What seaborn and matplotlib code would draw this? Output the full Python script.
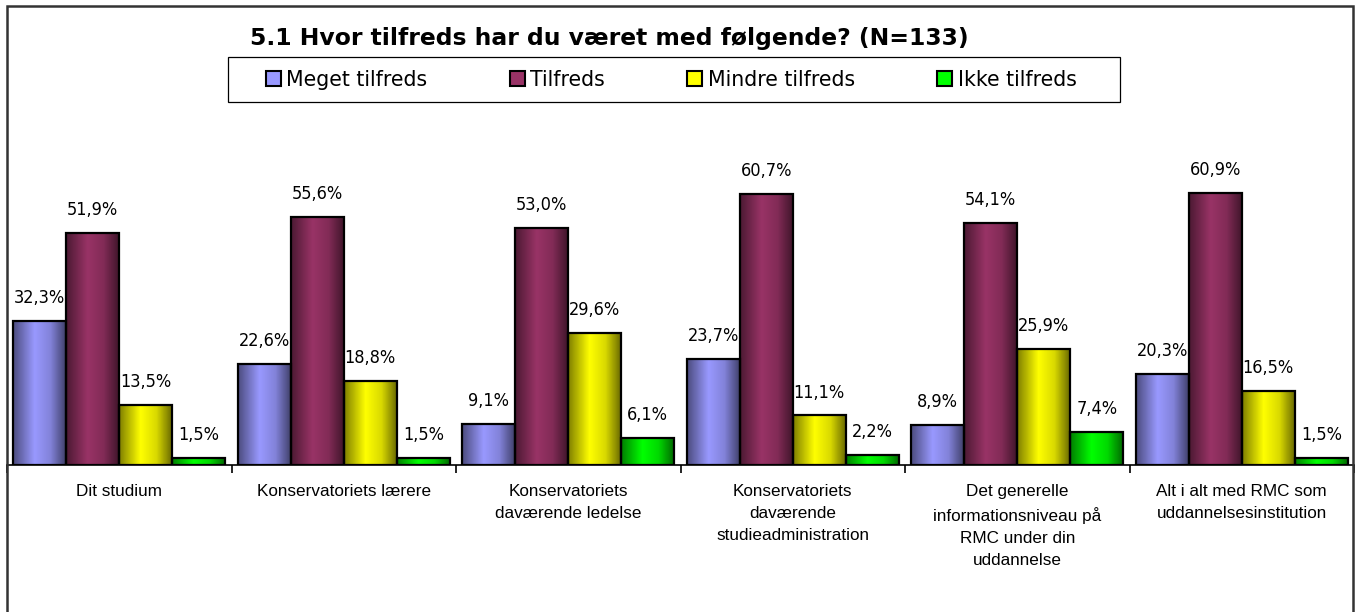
import numpy as np
import pandas as pd
import seaborn as sns
import matplotlib.pyplot as plt
from matplotlib import font_manager
from matplotlib.patches import Rectangle, Patch
from matplotlib.colors import to_rgb

# data
categories = ["Dit studium",
              "Konservatoriets lærere",
              "Konservatoriets\ndaværende ledelse",
              "Konservatoriets\ndaværende\nstudieadministration",
              "Det generelle\ninformationsniveau på\nRMC under din\nuddannelse",
              "Alt i alt med RMC som\nuddannelsesinstitution"]
answers = ["Meget tilfreds", "Tilfreds", "Mindre tilfreds", "Ikke tilfreds"]
meget = [32.3, 22.6, 9.1, 23.7, 8.9, 20.3]
tilfreds = [51.9, 55.6, 53.0, 60.7, 54.1, 60.9]
mindre = [13.5, 18.8, 29.6, 11.1, 25.9, 16.5]
ikke = [1.5, 1.5, 6.1, 2.2, 7.4, 1.5]
colors = ["#9999FF", "#993366", "#FFFF00", "#00FF00"]

df = pd.DataFrame({
    "kategori": categories * 4,
    "svar": np.repeat(answers, len(categories)),
    "pct": meget + tilfreds + mindre + ikke,
})

sns.set_style("white")
plt.rcParams["font.family"] = ["Liberation Sans", "DejaVu Sans"]
plt.rcParams["text.color"] = "black"

# narrow font for the numbers, whatever is installed
fonts = font_manager.fontManager.ttflist
names = {f.name for f in fonts}
if "Liberation Sans Narrow" in names:
    narrow = dict(family="Liberation Sans Narrow")
elif any(f.name == "DejaVu Sans" and "ondensed" in f.fname for f in fonts):
    narrow = dict(family="DejaVu Sans", stretch="condensed")
else:
    narrow = dict(family="DejaVu Sans")

fig = plt.figure(figsize=(13.6, 6.12), dpi=100)
W, H = 1360, 612
ax = fig.add_axes([7 / W, (H - 465) / H, 1347 / W, 335 / H])

sns.barplot(data=df, x="kategori", y="pct", hue="svar", hue_order=answers,
            palette=colors, width=0.945, gap=0, legend=False, ax=ax,
            edgecolor="black", linewidth=1.6, saturation=1, zorder=3)

# cylinder-like shading inside each bar
prof_x = np.linspace(0, 1, 64)
prof = np.interp(prof_x, [0, 0.4, 0.7, 1], [0.5, 1.0, 0.85, 0.4])
for cont, col in zip(ax.containers, colors):
    rgb = np.array(to_rgb(col))
    grad = (prof[:, None] * rgb[None, :])[None, :, :]
    for bar in cont:
        x0, y0 = bar.get_x(), bar.get_y()
        w, h = bar.get_width(), bar.get_height()
        im = ax.imshow(grad, extent=[x0, x0 + w, y0, y0 + h], aspect="auto",
                       zorder=2.5, interpolation="bilinear")
        im.set_clip_path(bar)
        bar.set_facecolor("none")
    ax.bar_label(cont, labels=[f"{v:.1f}%".replace(".", ",") for v in cont.datavalues],
                 padding=10, fontsize=13, color="black", **narrow)
ax.set_ylim(0, 75)
ax.set_xlim(-0.5, 5.5)

# axes styling
for s in ["top", "right", "left"]:
    ax.spines[s].set_visible(False)
ax.spines["bottom"].set_linewidth(1.2)
ax.spines["bottom"].set_color("black")
ax.set_yticks([])
ax.set_xlabel("")
ax.set_ylabel("")
ax.set_xticks(range(len(categories)))
ax.set_xticklabels(categories, fontsize=12.3, linespacing=1.57, va="top", color="black")
ax.tick_params(axis="x", which="major", length=0, pad=14)
ax.set_xticks(np.arange(-0.5, 6, 1), minor=True)
ax.tick_params(axis="x", which="minor", bottom=True, length=6, width=1.2,
               direction="out", color="black")

# outer frame
fig.add_artist(Rectangle((7 / W, -0.01), 1346 / W, 1 - 6 / H + 0.01,
                         transform=fig.transFigure, fill=False,
                         edgecolor="#333333", linewidth=1.8))

fig.text(609 / W, 1 - 38 / H, "5.1 Hvor tilfreds har du været med følgende? (N=133)",
         ha="center", va="center", fontsize=16.9, fontweight="bold",
         family=["DejaVu Sans"], color="black")

# legend: box drawn separately so it can be wider than the entries
fig.add_artist(Rectangle((228 / W, 1 - 102 / H), 892 / W, 45 / H,
                         transform=fig.transFigure, fill=False,
                         edgecolor="black", linewidth=0.9))
handles = [Patch(facecolor=c, edgecolor="black", linewidth=1.5) for c in colors]
leg = fig.legend(handles, answers, loc="center", bbox_to_anchor=(671 / W, 1 - 80 / H),
                 ncol=4, frameon=False,
                 prop=dict(family="DejaVu Sans", size=14.8), handlelength=0.75,
                 handleheight=0.75, handletextpad=0.25, columnspacing=4.0)

fig.savefig("out.png", dpi=100)
